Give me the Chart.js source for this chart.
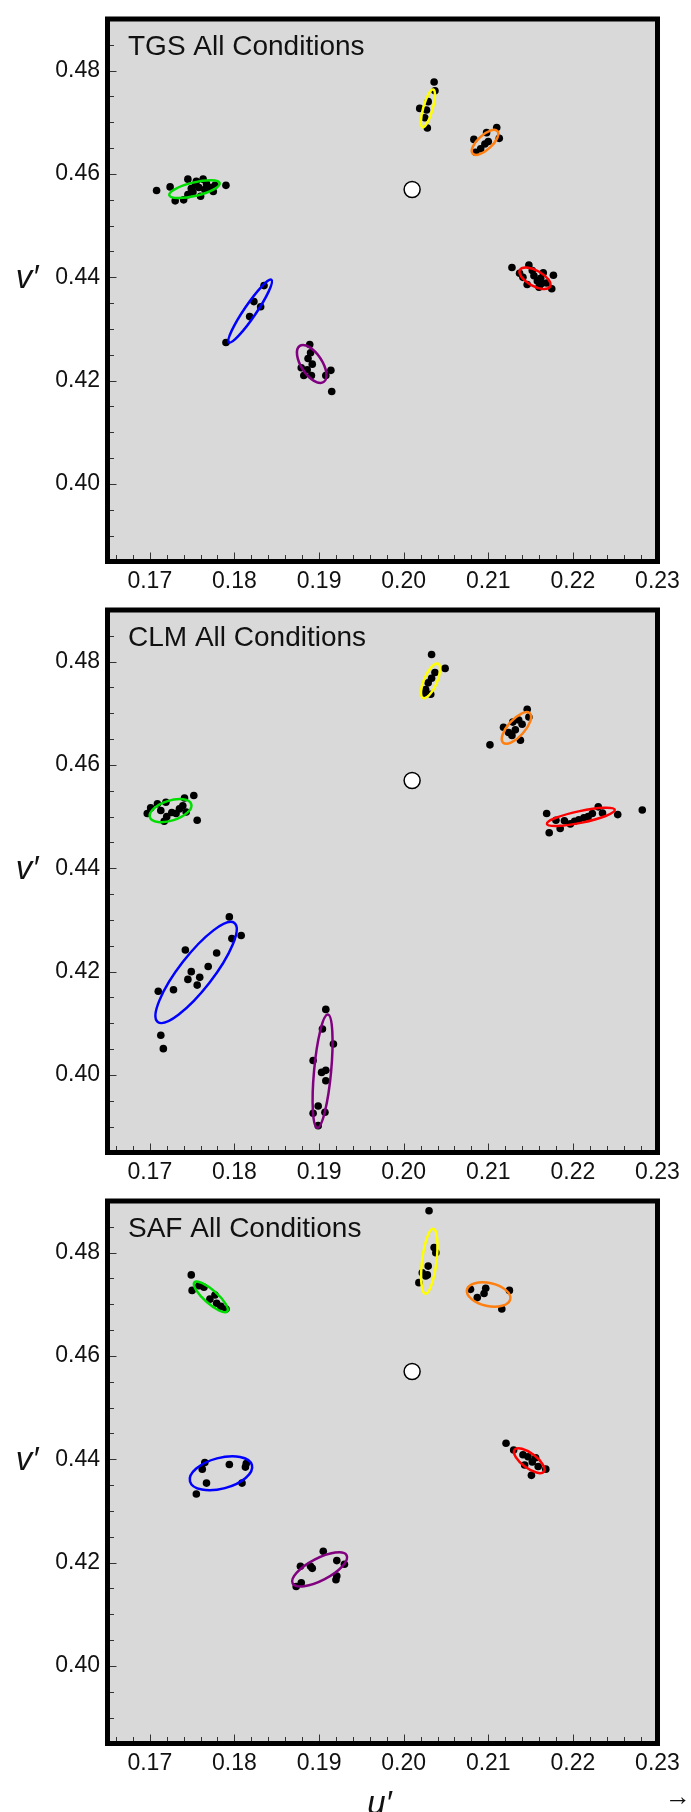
<!DOCTYPE html>
<html>
<head>
<meta charset="utf-8">
<title>u′v′ chromaticity – all conditions</title>
<script src="https://cdn.jsdelivr.net/npm/chart.js@4.4.1/dist/chart.umd.min.js"></script>
<style>
    html, body { margin: 0; padding: 0; background: #fff; }
    canvas { display: block; }
</style>
</head>
<body>
<canvas id="tgsChart" width="691" height="591"></canvas>
<canvas id="clmChart" width="691" height="591"></canvas>
<canvas id="safChart" width="691" height="630"></canvas>
<script>
// ---- data (u', v') ----
const panelTitles = ['TGS All Conditions', 'CLM All Conditions', 'SAF All Conditions'];
const uTicks = [0.17, 0.18, 0.19, 0.20, 0.21, 0.22, 0.23];
const vTicks = [0.40, 0.42, 0.44, 0.46, 0.48];
const clusters = ['Green', 'Yellow', 'Orange', 'Red', 'Blue', 'Purple'];
const whiteU = [0.201];
const whiteV = [0.457];

// TGS observer settings
const tgsU = [
    0.1708, 0.1724, 0.1730, 0.1740, 0.1745, 0.1749, 0.1754, 0.1751, 0.1758, 0.1760, 0.1763, 0.1767, 0.1771, 0.1775, 0.1777, 0.1790, 0.1755, 0.1765, 0.1745,
    0.2036, 0.2037, 0.2029, 0.2019, 0.2027, 0.2025, 0.2028,
    0.2083, 0.2085, 0.2091, 0.2098, 0.2100, 0.2096, 0.2110, 0.2113,
    0.2128, 0.2137, 0.2148, 0.2146, 0.2154, 0.2158, 0.2162, 0.2165, 0.2160, 0.2169, 0.2175, 0.2177, 0.2141, 0.2152, 0.2163,
    0.1790, 0.1818, 0.1823, 0.1831, 0.1835,
    0.1889, 0.1890, 0.1887, 0.1892, 0.1879, 0.1886, 0.1882, 0.1891, 0.1908, 0.1914, 0.1915
];
const tgsV = [
    0.4568, 0.4575, 0.4548, 0.4550, 0.4590, 0.4572, 0.4579, 0.4565, 0.4574, 0.4557, 0.4590, 0.4581, 0.4574, 0.4566, 0.4578, 0.4578, 0.4586, 0.4570, 0.4560,
    0.4778, 0.4761, 0.4740, 0.4727, 0.4724, 0.4709, 0.4689,
    0.4667, 0.4642, 0.4649, 0.4680, 0.4663, 0.4658, 0.4690, 0.4669,
    0.4419, 0.4408, 0.4424, 0.4386, 0.4403, 0.4393, 0.4398, 0.4409, 0.4381, 0.4389, 0.4378, 0.4404, 0.4400, 0.4413, 0.4388,
    0.4274, 0.4324, 0.4353, 0.4343, 0.4384,
    0.4270, 0.4254, 0.4243, 0.4232, 0.4225, 0.4221, 0.4210, 0.4210, 0.4210, 0.4220, 0.4179
];
const tgsEllU = [0.17528, 0.20287, 0.20962, 0.21552, 0.18186, 0.18913];
const tgsEllV = [0.45706, 0.47269, 0.46612, 0.43982, 0.43346, 0.42323];
const tgsTipU = [0.17826, 0.20350, 0.21108, 0.21730, 0.18437, 0.19054];
const tgsTipV = [0.45823, 0.47635, 0.46831, 0.43821, 0.43953, 0.41973];
const tgsRatio = [0.26, 0.24, 0.43, 0.45, 0.16, 0.48];

// CLM observer settings
const clmU = [
    0.1697, 0.1701, 0.1709, 0.1713, 0.1717, 0.1720, 0.1719, 0.1726, 0.1731, 0.1735, 0.1739, 0.1741, 0.1743, 0.1752, 0.1756,
    0.2033, 0.2049, 0.2037, 0.2033, 0.2029, 0.2026, 0.2024, 0.2032,
    0.2102, 0.2118, 0.2124, 0.2128, 0.2129, 0.2132, 0.2136, 0.2138, 0.2140, 0.2146, 0.2148,
    0.2169, 0.2172, 0.2180, 0.2185, 0.2190, 0.2197, 0.2202, 0.2207, 0.2213, 0.2218, 0.2223, 0.2230, 0.2235, 0.2253, 0.2282,
    0.1794, 0.1808, 0.1797, 0.1779, 0.1769, 0.1742, 0.1749, 0.1759, 0.1745, 0.1756, 0.1728, 0.1710, 0.1713, 0.1716,
    0.1908, 0.1904, 0.1917, 0.1893, 0.1903, 0.1908, 0.1908, 0.1899, 0.1893, 0.1907, 0.1899
];
const clmV = [
    0.4506, 0.4517, 0.4525, 0.4512, 0.4491, 0.4500, 0.4528, 0.4508, 0.4506, 0.4515, 0.4521, 0.4536, 0.4509, 0.4541, 0.4493,
    0.4814, 0.4787, 0.4779, 0.4768, 0.4759, 0.4746, 0.4738, 0.4737,
    0.4639, 0.4673, 0.4663, 0.4657, 0.4683, 0.4668, 0.4687, 0.4648, 0.4679, 0.4708, 0.4693,
    0.4506, 0.4469, 0.4493, 0.4477, 0.4492, 0.4486, 0.4491, 0.4494, 0.4498, 0.4500, 0.4506, 0.4519, 0.4507, 0.4504, 0.4513,
    0.4306, 0.4270, 0.4264, 0.4236, 0.4210, 0.4242, 0.4200, 0.4189, 0.4185, 0.4174, 0.4165, 0.4162, 0.4077, 0.4051,
    0.4127, 0.4089, 0.4060, 0.4028, 0.4005, 0.4009, 0.3989, 0.3940, 0.3926, 0.3928, 0.3902
];
const clmEllU = [0.17245, 0.20318, 0.21333, 0.22094, 0.17547, 0.19042];
const clmEllV = [0.45117, 0.47630, 0.46717, 0.44996, 0.41985, 0.40075];
const clmTipU = [0.17490, 0.20406, 0.21490, 0.22495, 0.18000, 0.19104];
const clmTipV = [0.45245, 0.47962, 0.47004, 0.45132, 0.42943, 0.41170];
const clmRatio = [0.46, 0.35, 0.42, 0.17, 0.27, 0.15];

// SAF observer settings
const safU = [
    0.1749, 0.1750, 0.1758, 0.1764, 0.1771, 0.1777, 0.1779, 0.1784, 0.1790,
    0.2030, 0.2036, 0.2038, 0.2029, 0.2022, 0.2026, 0.2018, 0.2028,
    0.2079, 0.2087, 0.2095, 0.2097, 0.2125, 0.2116,
    0.2121, 0.2130, 0.2141, 0.2143, 0.2147, 0.2152, 0.2156, 0.2151, 0.2159, 0.2168,
    0.1755, 0.1762, 0.1765, 0.1767, 0.1794, 0.1809, 0.1813, 0.1814,
    0.1905, 0.1921, 0.1930, 0.1890, 0.1892, 0.1878, 0.1873, 0.1879, 0.1920, 0.1921
];
const safV = [
    0.4757, 0.4727, 0.4736, 0.4733, 0.4710, 0.4718, 0.4702, 0.4696, 0.4691,
    0.4881, 0.4810, 0.4800, 0.4774, 0.4761, 0.4755, 0.4742, 0.4757,
    0.4729, 0.4713, 0.4721, 0.4731, 0.4727, 0.4691,
    0.4431, 0.4418, 0.4409, 0.4389, 0.4405, 0.4395, 0.4403, 0.4369, 0.4386, 0.4381,
    0.4333, 0.4381, 0.4394, 0.4354, 0.4390, 0.4354, 0.4385, 0.4392,
    0.4222, 0.4204, 0.4197, 0.4193, 0.4189, 0.4193, 0.4154, 0.4161, 0.4167, 0.4174
];
const safEllU = [0.17721, 0.20303, 0.21004, 0.21484, 0.17841, 0.19007];
const safEllV = [0.47145, 0.47833, 0.47190, 0.43974, 0.43731, 0.41870];
const safTipU = [0.17915, 0.20350, 0.21260, 0.21657, 0.18207, 0.19326];
const safTipV = [0.46865, 0.48462, 0.47099, 0.43762, 0.43890, 0.42142];
const safRatio = [0.30, 0.22, 0.52, 0.40, 0.48, 0.36];

// ---- styling ----
const clusterColors = {
    Green: '#00dd00', Yellow: '#ffff00', Orange: '#ff7f10',
    Red: '#ff0000', Blue: '#0000ff', Purple: '#800080'
};
const labelFont = "'Liberation Sans', Arial, sans-serif";
const plotBg = '#d9d9d9';
const textColor = '#111';

function toPoints(us, vs) {
    return us.map((u, i) => ({ x: u, y: vs[i] }));
}

// confidence ellipses: centre + end of major axis, minor/major ratio
function ellipsePlugin(cu, cv, tu, tv, ratio) {
    return {
        id: 'ellipses',
        afterDatasetsDraw(chart) {
            const ctx = chart.ctx;
            const xs = chart.scales.x;
            const ys = chart.scales.y;
            ctx.save();
            ctx.lineWidth = 2.5;
            cu.forEach((u, i) => {
                const cx = xs.getPixelForValue(u);
                const cy = ys.getPixelForValue(cv[i]);
                const tx = xs.getPixelForValue(tu[i]);
                const ty = ys.getPixelForValue(tv[i]);
                const a = Math.hypot(tx - cx, ty - cy);
                ctx.beginPath();
                ctx.ellipse(cx, cy, a, a * ratio[i], Math.atan2(ty - cy, tx - cx), 0, Math.PI * 2);
                ctx.strokeStyle = clusterColors[clusters[i]];
                ctx.stroke();
            });
            ctx.restore();
        }
    };
}

// grey plot area, inward ticks, heavy frame, panel title, axis letters
function framePlugin(title, showULabel) {
    return {
        id: 'frame',
        beforeDraw(chart) {
            const { ctx, chartArea: a } = chart;
            ctx.save();
            ctx.fillStyle = plotBg;
            ctx.fillRect(a.left, a.top, a.right - a.left, a.bottom - a.top);
            ctx.restore();
        },
        afterDraw(chart) {
            const { ctx, chartArea: a } = chart;
            const xs = chart.scales.x;
            const ys = chart.scales.y;
            ctx.save();

            ctx.strokeStyle = '#333';
            ctx.lineWidth = 1;
            ctx.beginPath();
            for (let k = 83; k <= 114; k++) {
                const px = Math.round(xs.getPixelForValue(k * 0.002)) + 0.5;
                const len = k % 5 === 0 ? 7 : 4.5;
                ctx.moveTo(px, a.bottom - 2);
                ctx.lineTo(px, a.bottom - 2 - len);
            }
            for (let k = 78; k <= 97; k++) {
                const py = Math.round(ys.getPixelForValue(k * 0.005)) + 0.5;
                const len = k % 4 === 0 ? 7 : 4.5;
                ctx.moveTo(a.left + 2, py);
                ctx.lineTo(a.left + 2 + len, py);
            }
            ctx.stroke();

            ctx.strokeStyle = '#000';
            ctx.lineWidth = 5;
            ctx.strokeRect(a.left, a.top, a.right - a.left, a.bottom - a.top);

            ctx.fillStyle = textColor;
            ctx.font = '28px ' + labelFont;
            ctx.textAlign = 'left';
            ctx.textBaseline = 'alphabetic';
            ctx.fillText(title, a.left + 20.5, a.top + 35.5);

            ctx.font = 'italic 33px ' + labelFont;
            ctx.textAlign = 'center';
            ctx.textBaseline = 'middle';
            ctx.fillText('v\u2032', 27, a.top + 0.479 * (a.bottom - a.top));

            if (showULabel) {
                ctx.textBaseline = 'alphabetic';
                ctx.fillText('u\u2032', (a.left + a.right) / 2 - 3, a.bottom + 70);
                ctx.font = '26px ' + labelFont;
                ctx.textBaseline = 'middle';
                ctx.fillText('\u2192', 678, a.bottom + 54);
            }
            ctx.restore();
        }
    };
}

function createPanel(canvasId, title, us, vs, cu, cv, tu, tv, ratio, showULabel) {
    const canvas = document.getElementById(canvasId);
    const xAxisHeight = canvas.height - 11.5 - 550;
    new Chart(canvas.getContext('2d'), {
        type: 'scatter',
        data: {
            datasets: [{
                label: 'Observer settings',
                data: toPoints(us, vs),
                pointRadius: 3.8,
                pointBackgroundColor: '#000',
                pointBorderWidth: 0
            }, {
                label: 'White point',
                data: toPoints(whiteU, whiteV),
                pointRadius: 8,
                pointBackgroundColor: '#fff',
                pointBorderColor: '#000',
                pointBorderWidth: 1.5
            }]
        },
        options: {
            responsive: false,
            animation: false,
            devicePixelRatio: 1,
            layout: { padding: { top: 11.5, right: 33.5, left: 0, bottom: 0 } },
            plugins: {
                legend: { display: false },
                tooltip: { enabled: false },
                title: { display: false }
            },
            scales: {
                x: {
                    type: 'linear',
                    min: 0.165,
                    max: 0.23,
                    afterBuildTicks: s => { s.ticks = uTicks.map(v => ({ value: v })); },
                    afterFit: s => { s.height = xAxisHeight; },
                    grid: { display: false, drawTicks: false },
                    border: { display: false },
                    ticks: {
                        padding: 9,
                        autoSkip: false,
                        maxRotation: 0,
                        color: textColor,
                        font: { family: labelFont, size: 23, lineHeight: 1 },
                        callback: v => v.toFixed(2)
                    }
                },
                y: {
                    type: 'linear',
                    min: 0.385,
                    max: 0.49,
                    afterBuildTicks: s => { s.ticks = vTicks.map(v => ({ value: v })); },
                    afterFit: s => { s.width = 107.5; },
                    grid: { display: false, drawTicks: false },
                    border: { display: false },
                    ticks: {
                        padding: 7.5,
                        autoSkip: false,
                        color: textColor,
                        font: { family: labelFont, size: 23, lineHeight: 1 },
                        callback: v => v.toFixed(2)
                    }
                }
            }
        },
        plugins: [framePlugin(title, showULabel), ellipsePlugin(cu, cv, tu, tv, ratio)]
    });
}

createPanel('tgsChart', panelTitles[0], tgsU, tgsV, tgsEllU, tgsEllV, tgsTipU, tgsTipV, tgsRatio, false);
createPanel('clmChart', panelTitles[1], clmU, clmV, clmEllU, clmEllV, clmTipU, clmTipV, clmRatio, false);
createPanel('safChart', panelTitles[2], safU, safV, safEllU, safEllV, safTipU, safTipV, safRatio, true);
</script>
</body>
</html>
